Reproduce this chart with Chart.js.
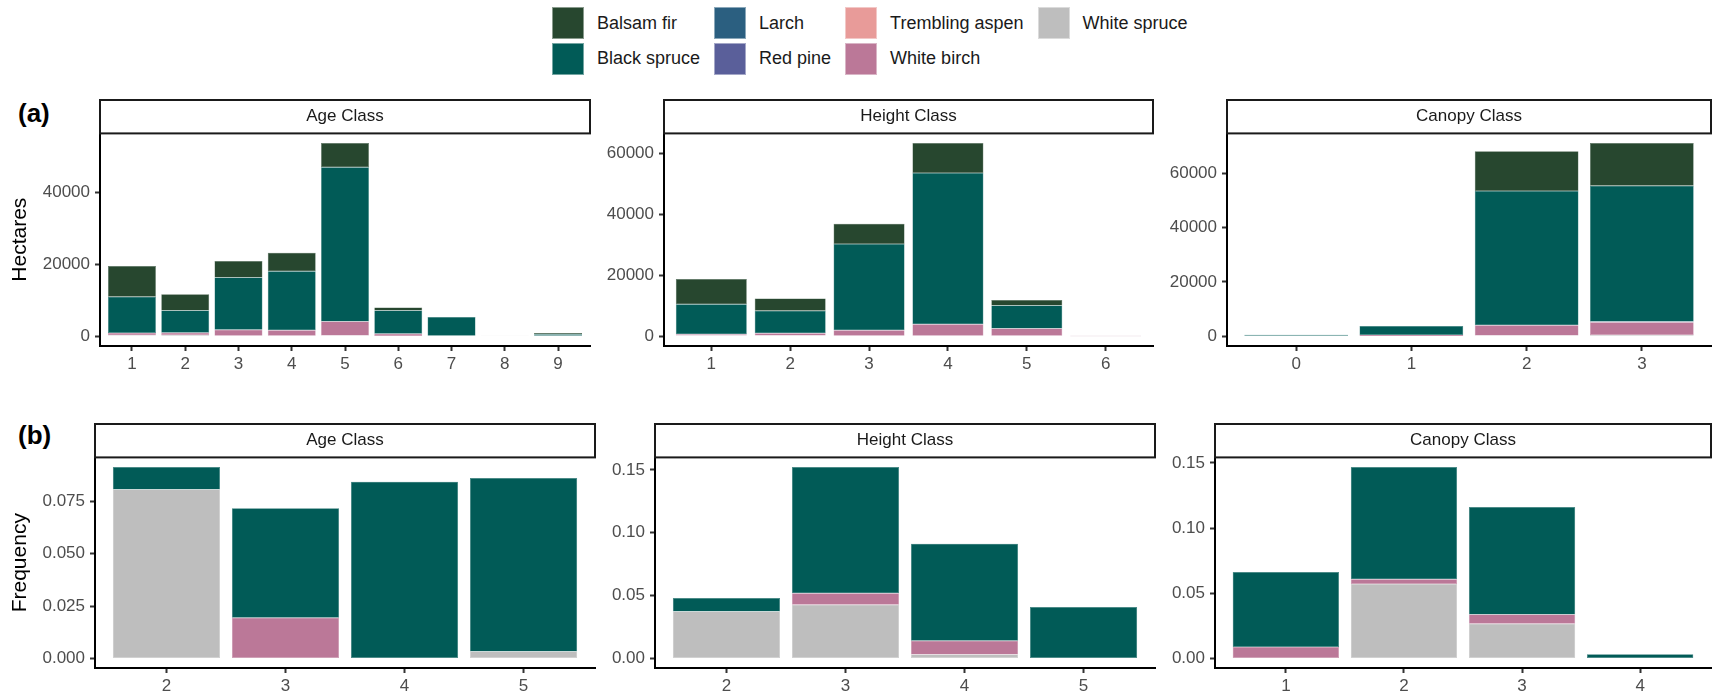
<!DOCTYPE html>
<html>
<head>
<meta charset="utf-8">
<script src="https://cdn.jsdelivr.net/npm/chart.js@4.4.1/dist/chart.umd.min.js"></script>
<style>
  body { margin: 0; width: 1713px; height: 697px; background: #fff; position: relative; overflow: hidden;
         font-family: "Liberation Sans", Arial, sans-serif; }
  canvas { position: absolute; }
  .tag { position: absolute; font-weight: bold; font-size: 26px; line-height: 26px; color: #000; }
  #legend { position: absolute; left: 552px; top: 7px; display: grid; grid-template-rows: 32px 32px;
            row-gap: 3.5px; column-gap: 14px; grid-auto-flow: column; }
  .item { display: flex; align-items: center; font-size: 18px; color: #1a1a1a; }
  .swatch { width: 32px; height: 32px; margin-right: 13px; box-shadow: inset 0 0 0 1px rgba(255,255,255,.45); }
</style>
</head>
<body>
<div id="legend"></div>
<div class="tag" style="left:18px;top:100px">(a)</div>
<div class="tag" style="left:18px;top:422px">(b)</div>
<canvas id="haAge"></canvas>
<canvas id="haHeight"></canvas>
<canvas id="haCanopy"></canvas>
<canvas id="frAge"></canvas>
<canvas id="frHeight"></canvas>
<canvas id="frCanopy"></canvas>
<script>
const species = ['Balsam fir', 'Black spruce', 'Larch', 'Red pine', 'Trembling aspen', 'White birch', 'White spruce'];
const speciesColors = ['#27472f', '#015b57', '#2b5f80', '#5a5f9a', '#e89b99', '#bb7898', '#bebebe'];

// (a) hectares - one row per species, same order as above
const ageClasses = [1, 2, 3, 4, 5, 6, 7, 8, 9];
const haByAge = [
  [8600, 4500, 4600, 5200, 6700, 800, 0, 0, 300],
  [10100, 6200, 14500, 16400, 43000, 6500, 5400, 0, 600],
  [0, 0, 0, 0, 0, 0, 0, 0, 0],
  [0, 0, 0, 0, 0, 0, 0, 0, 0],
  [0, 0, 0, 0, 0, 0, 0, 0, 0],
  [600, 600, 1700, 1550, 3900, 600, 0, 0, 0],
  [300, 400, 150, 150, 200, 100, 0, 100, 0]
];

const heightClasses = [1, 2, 3, 4, 5, 6];
const haByHeight = [
  [8300, 4000, 6700, 9800, 1800, 0],
  [9900, 7400, 28300, 49700, 7500, 0],
  [0, 0, 0, 0, 0, 0],
  [0, 0, 0, 0, 0, 0],
  [0, 0, 0, 0, 0, 0],
  [400, 700, 1800, 3800, 2400, 150],
  [250, 300, 200, 200, 200, 50]
];

const canopyClasses = [0, 1, 2, 3];
const haByCanopy = [
  [0, 0, 14600, 15700],
  [600, 3300, 49400, 49950],
  [0, 0, 0, 150],
  [0, 0, 0, 100],
  [0, 0, 0, 0],
  [0, 400, 3800, 4700],
  [0, 100, 300, 500]
];

// (b) frequency
const ageClassesB = [2, 3, 4, 5];
const freqByAge = [
  [0, 0, 0, 0],
  [0.0107, 0.0523, 0.0844, 0.0828],
  [0, 0, 0, 0],
  [0, 0, 0, 0],
  [0, 0, 0, 0],
  [0, 0.0194, 0, 0],
  [0.0807, 0, 0, 0.0033]
];

const heightClassesB = [2, 3, 4, 5];
const freqByHeight = [
  [0, 0, 0, 0],
  [0.0107, 0.1006, 0.0772, 0.0409],
  [0, 0, 0, 0],
  [0, 0, 0, 0],
  [0, 0, 0, 0],
  [0, 0.0091, 0.0109, 0],
  [0.0374, 0.0427, 0.0032, 0]
];

const canopyClassesB = [1, 2, 3, 4];
const freqByCanopy = [
  [0, 0, 0, 0],
  [0.0576, 0.0862, 0.0824, 0.0033],
  [0, 0, 0, 0],
  [0, 0, 0, 0],
  [0, 0, 0, 0],
  [0.0087, 0.0036, 0.0072, 0],
  [0, 0.0571, 0.0266, 0]
];

const haTicks = [0, 20000, 40000, 60000];
const haTickLabels = ['0', '20000', '40000', '60000'];
const freqAgeTicks = [0, 0.025, 0.05, 0.075];
const freqAgeTickLabels = ['0.000', '0.025', '0.050', '0.075'];
const freqTicks = [0, 0.05, 0.1, 0.15];
const freqTickLabels = ['0.00', '0.05', '0.10', '0.15'];

// bottom of the stack first
const stackOrder = [6, 5, 4, 3, 2, 1, 0];

// panel placement on the page
const boxes = {
  haAge:    { x: 100,  right: 590,  yw: 100, top: 100, axis: 346 },
  haHeight: { x: 664,  right: 1153, yw: 80,  top: 100, axis: 346 },
  haCanopy: { x: 1227, right: 1711, yw: 80,  top: 100, axis: 346 },
  frAge:    { x: 95,   right: 595,  yw: 95,  top: 424, axis: 668 },
  frHeight: { x: 655,  right: 1155, yw: 80,  top: 424, axis: 668 },
  frCanopy: { x: 1215, right: 1711, yw: 80,  top: 424, axis: 668 }
};

Chart.defaults.font.family = '"Liberation Sans", Arial, sans-serif';
Chart.defaults.color = '#4d4d4d';

function lighten(hex, t) {
  const n = parseInt(hex.slice(1), 16);
  const c = [n >> 16, (n >> 8) & 255, n & 255].map(v => Math.round(v + (255 - v) * t));
  return 'rgb(' + c.join(',') + ')';
}

const stripBox = {
  id: 'stripBox',
  afterDraw(chart) {
    const t = chart.titleBlock, ctx = chart.ctx;
    ctx.save();
    ctx.strokeStyle = '#1a1a1a';
    ctx.lineWidth = 2;
    ctx.strokeRect(t.left, t.top, t.width, t.height);
    ctx.restore();
  }
};

function panel(id, cats, rows, ticks, tickLabels, strip, yTitle) {
  const b = boxes[id];
  const canvas = document.getElementById(id);
  const left = b.x - b.yw, top = b.top - 1;
  canvas.width = b.right + 2 - left;
  canvas.height = b.axis + 30 - top;
  canvas.style.left = left + 'px';
  canvas.style.top = top + 'px';

  const totals = cats.map((c, i) => rows.reduce((s, r) => s + r[i], 0));
  const peak = Math.max(...totals);

  const datasets = stackOrder.map(k => ({
    label: species[k],
    data: cats.map((c, i) => ({ x: c, y: rows[k][i] })),
    backgroundColor: speciesColors[k],
    borderColor: lighten(speciesColors[k], 0.2),
    borderWidth: 0.5,
    borderSkipped: false,
    inflateAmount: 0,
    barPercentage: 0.9,
    categoryPercentage: 1
  }));

  const tickFont = { size: 17 };
  return new Chart(canvas, {
    type: 'bar',
    data: { datasets },
    plugins: [stripBox],
    options: {
      responsive: false,
      animation: false,
      layout: { padding: { top: 1, right: 2, left: 0, bottom: 0 } },
      plugins: {
        legend: { display: false },
        tooltip: { enabled: false },
        title: {
          display: true, text: strip, fullSize: false, color: '#1a1a1a',
          font: { size: 17, weight: 'normal', lineHeight: 1.2 },
          padding: { top: 6.5, bottom: 6.5 }
        }
      },
      scales: {
        x: {
          type: 'linear', stacked: true, bounds: 'data', offset: false,
          min: cats[0] - 0.6, max: cats[cats.length - 1] + 0.6,
          afterBuildTicks: s => { s.ticks = cats.map(v => ({ value: v })); },
          afterFit: s => { s.height = 30; },
          ticks: { font: tickFont, color: '#4d4d4d', padding: 3, autoSkip: false, maxRotation: 0,
                   callback: v => String(v) },
          grid: { offset: false, drawOnChartArea: false, tickLength: 5, tickWidth: 2, tickColor: '#333333' },
          border: { display: true, color: '#000000', width: 2 }
        },
        y: {
          type: 'linear', stacked: true, bounds: 'data',
          min: -0.05 * peak, max: 1.05 * peak,
          afterBuildTicks: s => { s.ticks = ticks.filter(v => v <= s.max).map(v => ({ value: v })); },
          afterFit: s => { s.width = b.yw; },
          ticks: { font: tickFont, color: '#4d4d4d', padding: 5, autoSkip: false,
                   callback: v => tickLabels[ticks.indexOf(v)] },
          grid: { drawOnChartArea: false, tickLength: 5, tickWidth: 2, tickColor: '#333333' },
          border: { display: true, color: '#000000', width: 2 },
          title: { display: !!yTitle, text: yTitle || '', color: '#000000',
                   font: { size: 21 }, padding: { top: 8, bottom: 0 } }
        }
      }
    }
  });
}

const first = panel('haAge', ageClasses, haByAge, haTicks, haTickLabels, 'Age Class', 'Hectares');
panel('haHeight', heightClasses, haByHeight, haTicks, haTickLabels, 'Height Class');
panel('haCanopy', canopyClasses, haByCanopy, haTicks, haTickLabels, 'Canopy Class');
panel('frAge', ageClassesB, freqByAge, freqAgeTicks, freqAgeTickLabels, 'Age Class', 'Frequency');
panel('frHeight', heightClassesB, freqByHeight, freqTicks, freqTickLabels, 'Height Class');
panel('frCanopy', canopyClassesB, freqByCanopy, freqTicks, freqTickLabels, 'Canopy Class');

// shared legend, from the library's own legend items
const legendItems = first.options.plugins.legend.labels.generateLabels(first)
  .sort((a, b) => species.indexOf(a.text) - species.indexOf(b.text));
const legendEl = document.getElementById('legend');
legendItems.forEach(it => {
  const item = document.createElement('div');
  item.className = 'item';
  const sw = document.createElement('span');
  sw.className = 'swatch';
  sw.style.background = it.fillStyle;
  const txt = document.createElement('span');
  txt.textContent = it.text;
  item.appendChild(sw);
  item.appendChild(txt);
  legendEl.appendChild(item);
});
</script>
</body>
</html>
